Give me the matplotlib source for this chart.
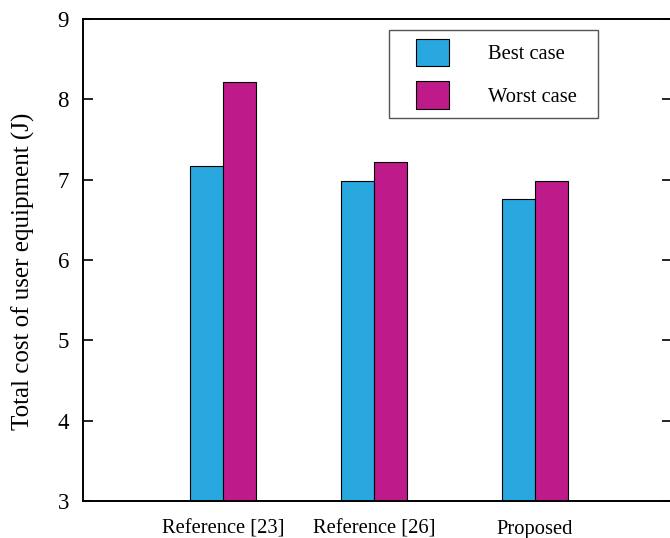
import numpy as np
import matplotlib.pyplot as plt
from matplotlib.patches import Rectangle

plt.rcParams['font.family'] = ['Liberation Serif', 'DejaVu Serif']

categories = ['Reference [23]', 'Reference [26]', 'Proposed']
x_pos = [1.0, 1.97, 3.0]
best_case = [7.17, 6.98, 6.76]
worst_case = [8.22, 7.22, 6.98]

blue = '#29a8e0'
magenta = '#be1a8a'
w = 0.212

fig = plt.figure(figsize=(6.7, 5.38), dpi=100)
ax = fig.add_axes([83 / 670, 1 - 501 / 538, 589 / 670, 482 / 538])

x = np.array(x_pos)
ax.bar(x - w / 2, best_case, w, color=blue, edgecolor='black', linewidth=0.8,
       label='Best case')
ax.bar(x + w / 2, worst_case, w, color=magenta, edgecolor='black', linewidth=0.8,
       label='Worst case')

ax.set_ylim(3, 9)
ax.set_xlim(0.103, 3.878)
ax.set_yticks(range(3, 10))
ax.set_xticks(x)
ax.set_xticklabels(categories, fontsize=14.8)
ax.tick_params(axis='x', length=0, pad=13.5)
ax.tick_params(axis='y', direction='in', length=7, width=1.2, labelsize=16.5,
               right=True, pad=10)
for s in ax.spines.values():
    s.set_linewidth(1.4)
ax.set_ylabel('Total cost of user equipment (J)', fontsize=18)
ax.yaxis.set_label_coords(-0.0815, 0.476)

# legend without frame, box drawn separately (wider side padding than top/bottom)
leg = ax.legend(loc='upper left', bbox_to_anchor=(416 / 670, 1 - 39 / 538),
                bbox_transform=fig.transFigure, fontsize=14.8, frameon=False,
                handlelength=1.6, handleheight=1.67, handletextpad=1.9,
                labelspacing=0.73, borderpad=0, borderaxespad=0)
fig.patches.append(Rectangle((389 / 670, 1 - 118 / 538), 209 / 670, 88 / 538,
                             transform=fig.transFigure, fill=False,
                             edgecolor='#555555', linewidth=1.0, zorder=5))

fig.savefig('out.png', dpi=100)
